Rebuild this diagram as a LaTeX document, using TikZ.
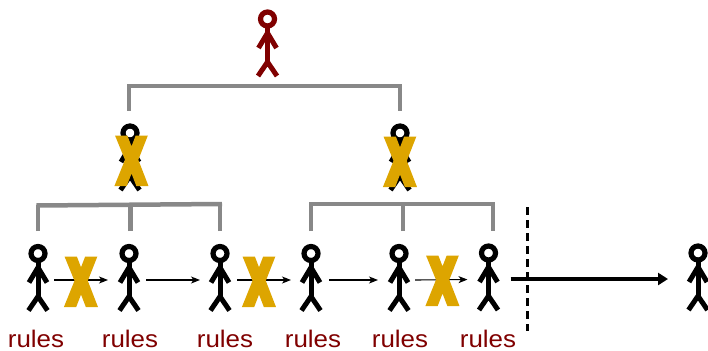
\documentclass[tikz,border=0pt]{standalone}
\usepackage{fontspec}
\setmainfont{Liberation Sans}
\newfontfamily\crossfont[FakeBold=15]{Liberation Sans Bold}
\usetikzlibrary{arrows.meta}
\definecolor{maroonc}{HTML}{800000}
\definecolor{goldc}{HTML}{DDA500}
\definecolor{barc}{HTML}{888888}
\tikzset{
  x=1pt,y=-1pt,
  person/.style={minimum width=32pt,minimum height=67pt,inner sep=0pt,outer sep=0pt},
  stick/.pic={
    \draw[pic actions,line width=5.2pt] (0,-24) circle (7);
    \draw[pic actions,line width=5pt] (0,-17) -- (0,19.5);
    \draw[pic actions,line width=5pt,line join=miter] (-9,5) -- (0,-10) -- (9,5);
    \draw[pic actions,line width=5pt,line join=miter] (-9.5,33) -- (0,19) -- (9.5,33);
  },
  barline/.style={draw=barc,line width=4.5pt},
  stem/.style={draw=barc,line width=4.5pt,shorten <=13pt},
  thinarrow/.style={draw=black,line width=1.1pt,-{Stealth[length=9pt,width=7pt,inset=2.5pt]},shorten >=5pt},
  thickarrow/.style={draw=black,line width=4pt,-{Triangle[length=10pt,width=12pt]}},
  cross/.style={text=goldc,font=\crossfont\fontsize{40pt}{40pt}\selectfont,inner sep=0pt,xscale=0.92,yscale=1.5,anchor=base},
  rulestext/.style={text=maroonc,font=\fontsize{24pt}{26pt}\selectfont,inner sep=0pt,anchor=base,xscale=1.08},
}
\begin{document}
\begin{tikzpicture}
\useasboundingbox (0,0) rectangle (708,350);
% people
\node[person] (top) at (267.5,43) {};
\node[person] (m1) at (130,157) {};
\node[person] (m2) at (400,157) {};
\node[person] (p1) at (38,277.5) {};
\node[person] (p2) at (129,277.5) {};
\node[person] (p3) at (220,277.5) {};
\node[person] (p4) at (311,277.5) {};
\node[person] (p5) at (399,277.5) {};
\node[person] (p6) at (488.5,277) {};
\node[person] (p7) at (698,277) {};
\pic[draw=maroonc] at (top) {stick};
\foreach \n in {m1,m2,p1,p2,p3,p4,p5,p6,p7}{\pic[draw=black] at (\n) {stick};}
% brackets
\coordinate (ta) at (127,86);
\coordinate (tb) at (402,86);
\draw[barline] (ta) -- (tb);
\draw[stem] ([xshift=-1pt]m1.north) -- (129,86);
\draw[stem] (m2.north) -- (400,86);
\coordinate (la) at (36.5,205.5);
\coordinate (lb) at (222,204);
\draw[barline] (la) -- (lb);
\draw[stem] (p1.north) -- (38,205);
\draw[stem] ([xshift=1.5pt]p2.north) -- (130.5,205);
\draw[stem] (p3.north) -- (220,204);
\coordinate (ra) at (309,204);
\coordinate (rb) at (495,204);
\draw[barline] (ra) -- (rb);
\draw[stem] (p4.north) -- (311,204);
\draw[stem] ([xshift=4pt]p5.north) -- (403,204);
\draw[stem] ([xshift=4.5pt]p6.north) -- (493,204);
% chain arrows
\draw[thinarrow] ([yshift=-2.5pt]p1.east) -- ([yshift=-2.5pt]p2.west);
\draw[thinarrow] ([xshift=1pt,yshift=-2.5pt]p2.east) -- ([xshift=1pt,yshift=-2.5pt]p3.west);
\draw[thinarrow] ([xshift=1pt,yshift=-2.5pt]p3.east) -- ([xshift=1pt,yshift=-2.5pt]p4.west);
\draw[thinarrow] ([xshift=2pt,yshift=-2.5pt]p4.east) -- ([yshift=-2.5pt]p5.west);
\draw[thinarrow] ([yshift=-2.5pt]p5.east) -- ([yshift=-2.5pt]p6.west);
\draw[thickarrow,shorten <=6pt,shorten >=14pt] ([yshift=-2pt]p6.east) -- ([yshift=-2pt]p7.west);
% divider
\coordinate (da) at (527,207);
\coordinate (db) at (527,331);
\draw[line width=3pt,dash pattern=on 8pt off 5pt] (da) -- (db);
% crosses
\node[cross] (x1) at (131.5,181.5) {X};
\node[cross] (x2) at (400,182.5) {X};
\node[cross] (x3) at (81,302.5) {X};
\node[cross] (x4) at (259,302.5) {X};
\node[cross] (x5) at (442.5,301.5) {X};
% rules labels
\node[rulestext] (r1) at (36,347.5) {rules};
\node[rulestext] (r2) at (130,347.5) {rules};
\node[rulestext] (r3) at (225,347.5) {rules};
\node[rulestext] (r4) at (313,347.5) {rules};
\node[rulestext] (r5) at (400,347.5) {rules};
\node[rulestext] (r6) at (488,347.5) {rules};
\end{tikzpicture}
\end{document}
